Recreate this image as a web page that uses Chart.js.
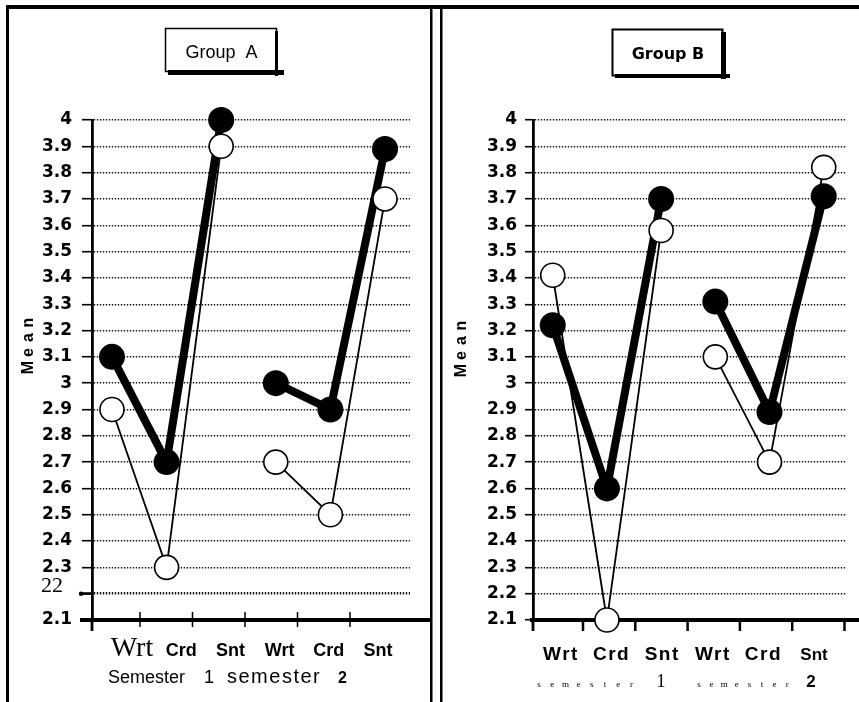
<!DOCTYPE html>
<html><head><meta charset="utf-8">
<script src="https://cdn.jsdelivr.net/npm/chart.js@4.4.1/dist/chart.umd.min.js"></script>
<style>
html,body{margin:0;padding:0;background:#fff;}
#wrap{position:relative;width:859px;height:702px;overflow:hidden;background:#fff;}
canvas{position:absolute;left:0;top:0;}
</style></head><body>
<div id="wrap"><canvas id="cA" width="859" height="702"></canvas><canvas id="cB" width="859" height="702"></canvas></div>
<script>
// ---- data ----
const categories = ['Wrt', 'Crd', 'Snt', 'Wrt', 'Crd', 'Snt'];
const semesterWordsA = ['Semester', '1', 'semester', '2'];
const semesterWordsB = ['semester', '1', 'semester', '2'];
const axisTitle = 'Mean';
const titleA = 'Group  A';
const titleB = 'Group B';
const groupAFilled = [3.1, 2.7, 4.0, 3.0, 2.9, 3.89];
const groupAOpen   = [2.9, 2.3, 3.9, 2.7, 2.5, 3.7];
const groupBFilled = [3.22, 2.6, 3.7, 3.31, 2.89, 3.71];
const groupBOpen   = [3.41, 2.1, 3.58, 3.1, 2.7, 3.82];
const yMin = 2.1, yMax = 4.0, yStep = 0.1;
const oddTickA = { value: 2.2, text: '22' };

// ---- helpers ----
const toPoints = arr => arr.map((v, i) => ({ x: i, y: v }));
const gapSeg = { borderColor: c => (c.p0DataIndex === 2 ? 'rgba(0,0,0,0)' : undefined) };
const near = (a, b) => Math.abs(a - b) < 1e-6;

function drawFrame(ctx) {
  ctx.save();
  ctx.fillStyle = '#000';
  ctx.fillRect(6, 5, 853, 4);      // top rule
  ctx.fillRect(6, 5, 3, 697);      // left rule
  ctx.fillRect(430, 5, 2.5, 697);  // middle double rule
  ctx.fillRect(440, 5, 2.5, 697);
  ctx.restore();
}

function spaced(ctx, word, x0, pitch, base) {
  word.split('').forEach((ch, k) => ctx.fillText(ch, x0 + k * pitch, base));
}

function decor(cfg) {
  return {
    id: 'decor' + cfg.key,
    beforeDatasetsDraw(chart) {
      const { ctx, chartArea: a } = chart;
      const ys = chart.scales.y;
      const y0 = ys.getPixelForValue(yMin);
      ctx.save();
      ctx.fillStyle = '#000';
      // x axis line
      ctx.fillRect(cfg.axisX0, y0 - 2, cfg.axisX1 - cfg.axisX0, 4);
      // x tick marks
      for (let i = 0; i < cfg.xTickCount; i++) {
        const x = a.left + cfg.xTick0 + i * cfg.xTickStep;
        ctx.fillRect(x - cfg.xTickW / 2, y0 + cfg.xTickTop, cfg.xTickW, cfg.xTickH);
      }
      // y axis extension below the x axis
      ctx.fillRect(a.left - 1.4, y0, 2.8, 11);
      if (cfg.key === 'A') {
        const y22 = ys.getPixelForValue(oddTickA.value);
        ctx.fillRect(80, y22 - 1.25, 12, 2.5);
        ctx.beginPath(); ctx.arc(81, y22, 2.2, 0, Math.PI * 2); ctx.fill();
      }
      ctx.restore();
    },
    afterDraw(chart) {
      const { ctx, chartArea: a } = chart;
      ctx.save();
      if (cfg.key === 'A') drawFrame(ctx);
      ctx.fillStyle = '#000';
      ctx.strokeStyle = '#000';
      // title box with drop shadow
      const b = cfg.box;
      ctx.lineWidth = b.lw;
      ctx.strokeRect(b.x + 0.5, b.y + 0.5, b.w, b.h);
      ctx.fillRect(b.x + 3, b.y + b.h - 1, b.w + 5, b.sh);
      ctx.fillRect(b.x + b.w - 1, b.y + 3, b.sr, b.h + b.sh - 3);
      ctx.font = cfg.titleFont;
      ctx.textAlign = 'center';
      ctx.textBaseline = 'alphabetic';
      ctx.fillText(cfg.title, b.x + b.w / 2 + 1, b.y + cfg.titleBase);

      // y-axis title, rotated, spaced letters
      ctx.save();
      ctx.translate(cfg.meanX, cfg.meanY);
      ctx.rotate(-Math.PI / 2);
      ctx.font = 'bold 16px "Liberation Sans", Arial, sans-serif';
      ctx.textAlign = 'center';
      ctx.textBaseline = 'middle';
      const letters = axisTitle.split('');
      letters.forEach((ch, k) => {
        ctx.fillText(ch, (k - (letters.length - 1) / 2) * 15, 0);
      });
      ctx.restore();

      // odd "22" label on panel A
      if (cfg.key === 'A') {
        const y22 = chart.scales.y.getPixelForValue(oddTickA.value);
        ctx.font = '22px "Liberation Serif", "Times New Roman", serif';
        ctx.textAlign = 'right';
        ctx.textBaseline = 'middle';
        ctx.fillText(oddTickA.text, 63, y22 - 7);
      }

      // category labels
      ctx.textAlign = 'center';
      ctx.textBaseline = 'alphabetic';
      categories.forEach((lab, i) => {
        ctx.font = cfg.catFont(i);
        if ('letterSpacing' in ctx) ctx.letterSpacing = cfg.catSpacing(i);
        ctx.fillText(lab, a.left + cfg.lab0 + i * cfg.labStep, cfg.labBase);
      });
      if ('letterSpacing' in ctx) ctx.letterSpacing = '0px';

      // semester labels
      cfg.drawSemesters(ctx);
      ctx.restore();
    }
  };
}

function makeChart(id, cfg, filled, open) {
  return new Chart(document.getElementById(id), {
    type: 'line',
    data: {
      datasets: [
        {
          data: toPoints(open), borderColor: '#000', borderWidth: 1.8,
          pointRadius: 12, pointBackgroundColor: '#fff', pointBorderColor: '#000',
          pointBorderWidth: 1.6, clip: false, segment: gapSeg, tension: 0
        },
        {
          data: toPoints(filled), borderColor: '#000', borderWidth: 8,
          borderJoinStyle: 'round', borderCapStyle: 'round',
          pointRadius: 13, pointBackgroundColor: '#000', pointBorderColor: '#000',
          pointBorderWidth: 0, clip: false, segment: gapSeg, tension: 0
        }
      ]
    },
    options: {
      responsive: false, animation: false, devicePixelRatio: 1,
      layout: { padding: { left: cfg.padLeft, right: cfg.padRight, top: 120, bottom: 82 } },
      plugins: { legend: { display: false }, tooltip: { enabled: false }, title: { display: false } },
      scales: {
        x: { type: 'linear', min: cfg.xMin, max: cfg.xMax, display: false },
        y: {
          type: 'linear', min: yMin, max: yMax,
          afterFit: s => { s.width = cfg.yWidth; },
          ticks: {
            stepSize: yStep, autoSkip: false, color: '#000', padding: cfg.labelPad,
            font: { family: '"DejaVu Sans", sans-serif', weight: 'bold', size: 17 },
            callback: v => (cfg.key === 'A' && near(v, oddTickA.value)) ? '' : String(Math.round(v * 10) / 10)
          },
          grid: {
            color: c => near(c.tick.value, yMin) ? 'rgba(0,0,0,0)' : '#111',
            lineWidth: c => (cfg.key === 'A' && near(c.tick.value, oddTickA.value)) ? 2.6 : 1.4,
            tickLength: cfg.tickLen, tickColor: '#000', tickWidth: 1.6, drawTicks: true
          },
          border: { display: true, color: '#000', width: 2.8, dash: [1.4, 1.6] }
        }
      }
    },
    plugins: [decor(cfg)]
  });
}

const cfgA = {
  key: 'A', padLeft: 0, yWidth: 92, padRight: 449, xMin: -0.366, xMax: 5.458,
  tickLen: 10, labelPad: 10,
  axisX0: 80, axisX1: 430, xTickCount: 5, xTick0: 48, xTickStep: 52.5, xTickW: 1.5, xTickTop: -8, xTickH: 15,
  box: { x: 165, y: 28, w: 111, h: 43, lw: 1.5, sh: 5, sr: 3 },
  title: titleA, titleFont: '18px "Liberation Sans", Arial, sans-serif', titleBase: 30,
  meanX: 29, meanY: 345,
  lab0: 40, labStep: 49.2, labBase: 656,
  catFont: i => i === 0 ? '28px "Liberation Serif", "Times New Roman", serif' : 'bold 18px "Liberation Sans", Arial, sans-serif',
  catSpacing: i => '0px',
  drawSemesters(ctx) {
    ctx.textAlign = 'left';
    ctx.font = '18px "Liberation Sans", Arial, sans-serif';
    ctx.fillText(semesterWordsA[0], 108, 683);
    ctx.fillText(semesterWordsA[1], 204, 683);
    ctx.font = '20px "Liberation Sans", Arial, sans-serif';
    if ('letterSpacing' in ctx) ctx.letterSpacing = '1.5px';
    ctx.fillText(semesterWordsA[2], 227, 683);
    if ('letterSpacing' in ctx) ctx.letterSpacing = '0px';
    ctx.font = 'bold 16px "Liberation Sans", Arial, sans-serif';
    ctx.fillText(semesterWordsA[3], 338, 683);
  }
};

const cfgB = {
  key: 'B', padLeft: 430, yWidth: 103, padRight: 9, xMin: -0.364, xMax: 5.4,
  tickLen: 8, labelPad: 8,
  axisX0: 530, axisX1: 859, xTickCount: 6, xTick0: 50, xTickStep: 52.3, xTickW: 2.5, xTickTop: 0, xTickH: 11,
  box: { x: 612, y: 29, w: 110, h: 46, lw: 2, sh: 4, sr: 5 },
  title: titleB, titleFont: 'bold 16px "DejaVu Sans", sans-serif', titleBase: 30,
  meanX: 462, meanY: 348,
  lab0: 28, labStep: 50.6, labBase: 660,
  catFont: i => i === 5 ? 'bold 17px "Liberation Sans", Arial, sans-serif' : 'bold 19px "Liberation Sans", Arial, sans-serif',
  catSpacing: i => i === 5 ? '0px' : '1.5px',
  drawSemesters(ctx) {
    ctx.textAlign = 'center';
    ctx.font = '9px "Liberation Serif", "Times New Roman", serif';
    spaced(ctx, semesterWordsB[0], 539, 13.2, 687);
    spaced(ctx, semesterWordsB[2], 699, 12.6, 687);
    ctx.font = '18px "Liberation Serif", "Times New Roman", serif';
    ctx.fillText(semesterWordsB[1], 661, 687);
    ctx.font = 'bold 17px "Liberation Sans", Arial, sans-serif';
    ctx.fillText(semesterWordsB[3], 811, 687);
  }
};

makeChart('cA', cfgA, groupAFilled, groupAOpen);
makeChart('cB', cfgB, groupBFilled, groupBOpen);
</script>
</body></html>
